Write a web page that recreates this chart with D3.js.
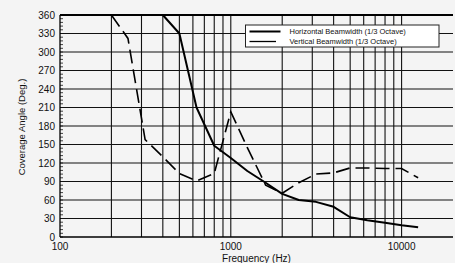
<!DOCTYPE html>
<html>
<head>
<meta charset="utf-8">
<script src="https://cdn.jsdelivr.net/npm/d3@7"></script>
<style>
  body { margin: 0; background: #f4f4f4; }
  text { font-family: "Liberation Sans", Arial, sans-serif; fill: #111; }
</style>
</head>
<body>
<div id="chart"></div>
<script>
// 1/3 octave centre frequencies (Hz)
const freqs = [100, 200, 250, 315, 400, 500, 630, 800, 1000, 1250, 1600, 2000, 2500, 3150, 4000, 5000, 6300, 8000, 10000, 12500];
const horizontal = [360, 360, 360, 360, 360, 330, 210, 148, 128, 107, 88, 70, 60, 57, 49, 32, 27, 23, 19, 16];
const vertical = [null, 360, 322, 158, 130, 103, 91, 103, 203, 145, 84, 71, 88, 102, 104, 112, 112, 111, 111, 96];
const yTicks = [0, 30, 60, 90, 120, 150, 180, 210, 240, 270, 300, 330, 360];
const xLabels = [100, 1000, 10000];
const legendNames = ['Horizontal Beamwidth (1/3 Octave)', 'Vertical Beamwidth (1/3 Octave)'];

const width = 455, height = 263;
const pl = 60, pr = 453, pt = 15, pb = 237;

const svg = d3.select('#chart').append('svg')
  .attr('width', width).attr('height', height);

const x = d3.scaleLog().domain([100, 20000]).range([pl, pr]);
const y = d3.scaleLinear().domain([0, 360]).range([pb, pt]);

// grid
const gridX = [];
[100, 1000, 10000].forEach(dec => {
  for (let k = 1; k <= 9; k++) {
    const v = dec * k;
    if (v > 100 && v < 20000) gridX.push(v);
  }
});
svg.append('g').selectAll('line').data(gridX).join('line')
  .attr('x1', d => x(d)).attr('x2', d => x(d))
  .attr('y1', pt).attr('y2', pb)
  .attr('stroke', '#111').attr('stroke-width', 1.1);

svg.append('g').selectAll('line').data(yTicks.filter(d => d > 0 && d < 360)).join('line')
  .attr('x1', pl).attr('x2', pr)
  .attr('y1', d => y(d)).attr('y2', d => y(d))
  .attr('stroke', '#111').attr('stroke-width', 1.1);

// y axis with minor ticks inward
svg.append('g').selectAll('line').data(d3.range(0, 361, 6)).join('line')
  .attr('x1', pl).attr('x2', pl + 3)
  .attr('y1', d => y(d)).attr('y2', d => y(d))
  .attr('stroke', '#111').attr('stroke-width', 0.8);

// frame
svg.append('line').attr('x1', pl).attr('x2', pr).attr('y1', pt).attr('y2', pt)
  .attr('stroke', '#000').attr('stroke-width', 2);
svg.append('line').attr('x1', pl).attr('x2', pr).attr('y1', pb).attr('y2', pb)
  .attr('stroke', '#000').attr('stroke-width', 1.3);
svg.append('line').attr('x1', pl).attr('x2', pl).attr('y1', pt).attr('y2', pb)
  .attr('stroke', '#000').attr('stroke-width', 1.3);

// tick labels
svg.append('g').selectAll('text').data(yTicks).join('text')
  .attr('x', pl - 5).attr('y', d => y(d) + 3.5)
  .attr('text-anchor', 'end').attr('font-size', 10)
  .text(d => d);

svg.append('g').selectAll('text').data(xLabels).join('text')
  .attr('x', d => x(d)).attr('y', 250)
  .attr('text-anchor', 'middle').attr('font-size', 10)
  .text(d => d);

svg.append('text')
  .attr('x', (pl + pr) / 2).attr('y', 261.5)
  .attr('text-anchor', 'middle').attr('font-size', 10)
  .text('Frequency (Hz)');

svg.append('text')
  .attr('transform', `translate(25,${(pt + pb) / 2 + 1}) rotate(-90)`)
  .attr('text-anchor', 'middle').attr('font-size', 9.5)
  .text('Coverage Angle (Deg.)');

// series
const line = d3.line()
  .defined(d => d[1] != null)
  .x(d => x(d[0])).y(d => y(d[1]));

svg.append('path')
  .datum(freqs.map((f, i) => [f, horizontal[i]]))
  .attr('d', line)
  .attr('fill', 'none').attr('stroke', '#000').attr('stroke-width', 2)
  .attr('stroke-linejoin', 'round');

svg.append('path')
  .datum(freqs.map((f, i) => [f, vertical[i]]))
  .attr('d', line)
  .attr('fill', 'none').attr('stroke', '#000').attr('stroke-width', 1.6)
  .attr('stroke-dasharray', '14,6');

// legend
const lg = svg.append('g').attr('transform', 'translate(245.5,25)');
lg.append('rect').attr('width', 193.5).attr('height', 22)
  .attr('fill', '#fff').attr('stroke', '#222').attr('stroke-width', 1);
lg.selectAll('line').data(legendNames).join('line')
  .attr('x1', 4).attr('x2', (d, i) => i ? 30.5 : 35)
  .attr('y1', (d, i) => 6.5 + i * 10).attr('y2', (d, i) => 6.5 + i * 10)
  .attr('stroke', '#000').attr('stroke-width', (d, i) => i ? 1.3 : 2);
lg.selectAll('text').data(legendNames).join('text')
  .attr('x', 44).attr('y', (d, i) => 9 + i * 10)
  .attr('font-size', 7.5)
  .text(d => d);
</script>
</body>
</html>
